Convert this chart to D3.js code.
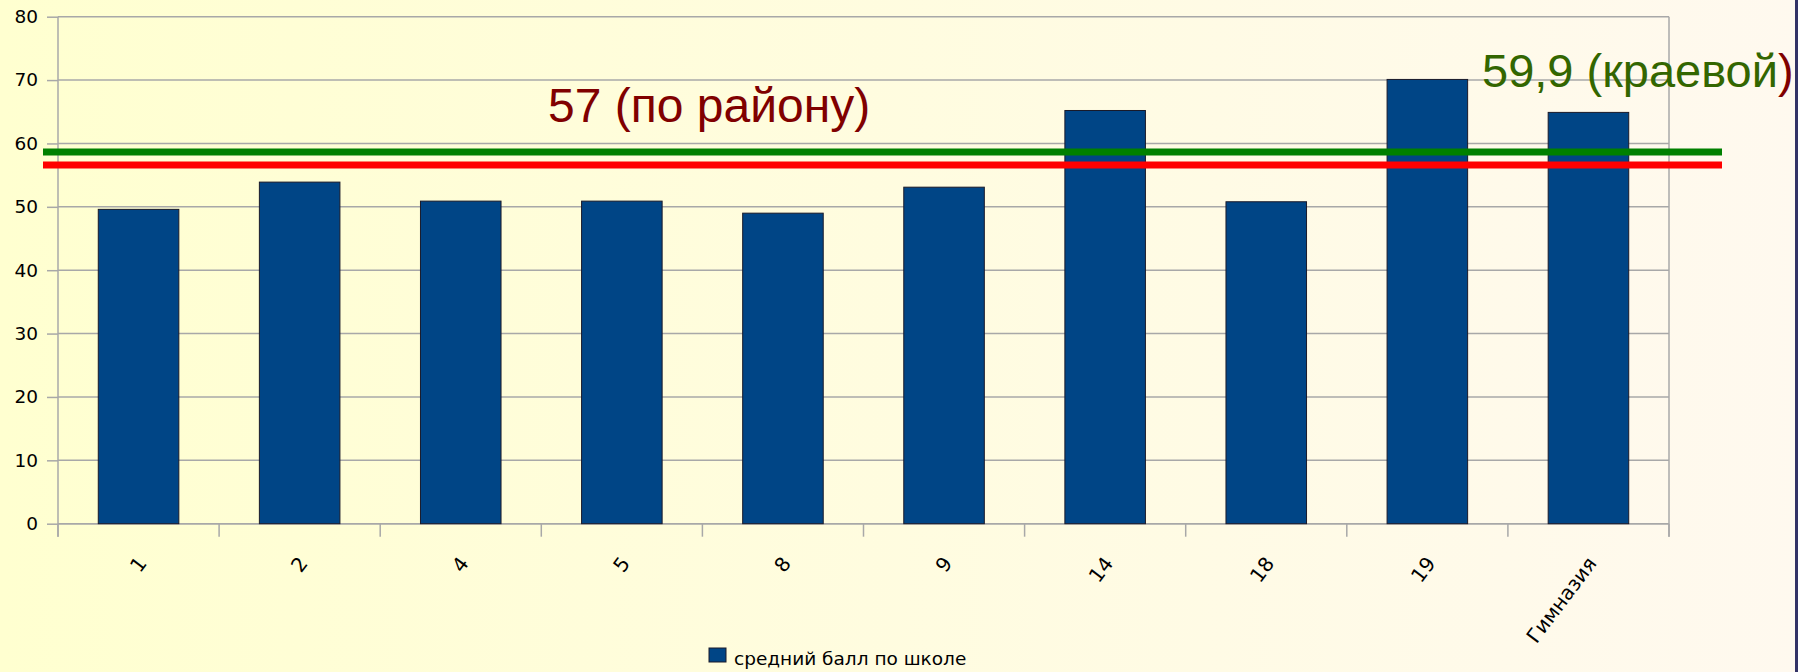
<!DOCTYPE html>
<html>
<head>
<meta charset="utf-8">
<script src="https://cdn.jsdelivr.net/npm/d3@7"></script>
<style>
  html, body { margin: 0; padding: 0; overflow: hidden; }
  text { font-family: "DejaVu Sans", sans-serif; }
  .big { font-family: "Liberation Sans", Arial, sans-serif; }
</style>
</head>
<body>
<svg id="chart"></svg>
<script>
// schools and their average score
var schools = ["1", "2", "4", "5", "8", "9", "14", "18", "19", "Гимназия"];
var avgScore = [49.6, 53.9, 50.9, 50.9, 49.0, 53.1, 65.2, 50.8, 70.1, 64.9];
var yTicks = [0, 10, 20, 30, 40, 50, 60, 70, 80];
var seriesName = "средний балл по школе";

// reference lines as drawn on the slide: regional (green) and district (red)
var refNames = ["59,9 (краевой", "57 (по району)"];
var refLevels = [58.65, 56.6];

var W = 1798, H = 672;
var plotLeft = 58, plotRight = 1669, plotTop = 16.7, plotBottom = 523.7;

var svg = d3.select("#chart").attr("width", W).attr("height", H);

var grad = svg.append("defs").append("linearGradient")
  .attr("id", "bg").attr("x1", "0").attr("x2", "1").attr("y1", "0").attr("y2", "0");
grad.append("stop").attr("offset", "0%").attr("stop-color", "#ffffd0");
grad.append("stop").attr("offset", "100%").attr("stop-color", "#fff9ef");

svg.append("rect").attr("width", W).attr("height", H).attr("fill", "url(#bg)");
svg.append("rect").attr("x", W - 3).attr("width", 3).attr("height", H).attr("fill", "#333366");

var x = d3.scaleBand().domain(schools).range([plotLeft, plotRight])
  .paddingInner(0.5).paddingOuter(0.25);
var y = d3.scaleLinear().domain([0, 80]).range([plotBottom, plotTop]);

var grey = "#a8a8a8";

// grid
svg.append("g").selectAll("line")
  .data(yTicks)
  .enter()
  .append("line")
    .attr("x1", plotLeft).attr("x2", plotRight)
    .attr("y1", function(d) { return y(d); })
    .attr("y2", function(d) { return y(d); })
    .attr("stroke", grey).attr("stroke-width", 1.5);

// y axis
var yAxis = svg.append("g")
  .attr("transform", "translate(" + plotLeft + ",0)")
  .call(d3.axisLeft(y).tickValues(yTicks).tickSize(11).tickPadding(9));
yAxis.attr("font-family", null);
yAxis.select(".domain").attr("stroke", grey).attr("stroke-width", 1.5)
  .attr("d", "M0," + (plotBottom + 13) + "V" + plotTop);
yAxis.selectAll(".tick line").attr("stroke", grey).attr("stroke-width", 1.5);
yAxis.selectAll(".tick text")
  .attr("font-size", 18.5)
  .attr("fill", "#000");

// right frame line
svg.append("line")
  .attr("x1", plotRight).attr("x2", plotRight).attr("y1", plotTop).attr("y2", plotBottom + 13)
  .attr("stroke", grey).attr("stroke-width", 1.5);

// x axis line and ticks at category boundaries
svg.append("line")
  .attr("x1", plotLeft).attr("x2", plotRight).attr("y1", plotBottom).attr("y2", plotBottom)
  .attr("stroke", grey).attr("stroke-width", 1.5);
svg.append("g").selectAll("line")
  .data(d3.range(schools.length + 1))
  .enter()
  .append("line")
    .attr("x1", function(i) { return plotLeft + i * x.step(); })
    .attr("x2", function(i) { return plotLeft + i * x.step(); })
    .attr("y1", plotBottom).attr("y2", plotBottom + 13)
    .attr("stroke", grey).attr("stroke-width", 1.5);

// bars
svg.append("g").selectAll("rect")
  .data(avgScore)
  .enter()
  .append("rect")
    .attr("x", function(d, i) { return x(schools[i]); })
    .attr("width", x.bandwidth())
    .attr("y", function(d) { return y(d); })
    .attr("height", function(d) { return y(0) - y(d); })
    .attr("fill", "#004586")
    .attr("stroke", "#1a1a2a").attr("stroke-width", 1);

// category labels
svg.append("g").selectAll("text")
  .data(schools)
  .enter()
  .append("text")
    .attr("transform", function(d) {
      return "translate(" + (x(d) + x.bandwidth() / 2 + 9) + "," + (plotBottom + 40) + ") rotate(-53)";
    })
    .attr("text-anchor", "end")
    .attr("font-size", 20)
    .attr("fill", "#000")
    .text(function(d) { return d; });

// reference lines
var refColors = ["#008000", "#ff0000"];
svg.append("g").selectAll("line")
  .data(refLevels)
  .enter()
  .append("line")
    .attr("x1", plotLeft - 15).attr("x2", plotRight + 53)
    .attr("y1", function(d) { return y(d); })
    .attr("y2", function(d) { return y(d); })
    .attr("stroke", function(d, i) { return refColors[i]; })
    .attr("stroke-width", 7);

// annotations
var t1 = svg.append("text")
  .attr("class", "big")
  .attr("x", 1482).attr("y", 87)
  .attr("font-size", 47)
  .attr("fill", "#336600");
t1.append("tspan").text(refNames[0]);
t1.append("tspan").attr("fill", "#800000").text(")");

svg.append("text")
  .attr("class", "big")
  .attr("x", 548).attr("y", 122)
  .attr("font-size", 48)
  .attr("fill", "#800000")
  .text(refNames[1]);

// legend
svg.append("rect")
  .attr("x", 709).attr("y", 648).attr("width", 17).attr("height", 14)
  .attr("fill", "#004586").attr("stroke", "#1a1a2a").attr("stroke-width", 1);
svg.append("text")
  .attr("x", 734).attr("y", 665)
  .attr("font-size", 18.5)
  .attr("fill", "#000")
  .text(seriesName);
</script>
</body>
</html>
